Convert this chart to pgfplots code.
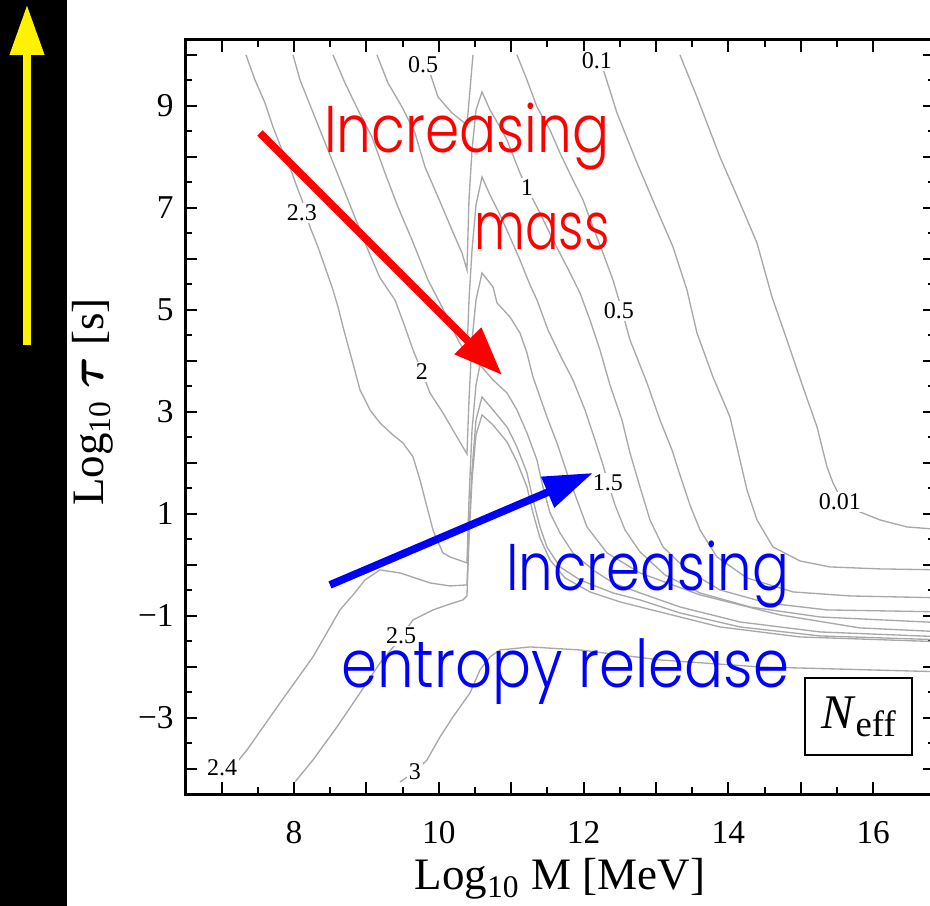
\documentclass[border=0pt]{standalone}
\usepackage{fontspec}
\setmainfont{Liberation Serif}
\newfontfamily\annfont{Poppins Light}
\usepackage{amsmath}
\usepackage{graphicx}
\usepackage{pgfplots}
\pgfplotsset{compat=1.18}
\usetikzlibrary{arrows.meta}
\definecolor{cline}{RGB}{168,168,168}
\tikzset{
  clab/.style={font=\fontsize{7.2}{8}\selectfont, fill=white, inner sep=0.6pt},
  ann/.style={anchor=base east, inner sep=0pt, font=\annfont\fontsize{19.8}{22}\selectfont},
}

\begin{document}
\begin{tikzpicture}
\begin{axis}[
  x=21.72pt, y=15.3pt,
  xmin=6.5, xmax=16.85, ymin=-4.5, ymax=10.3,
  axis line style={line width=0.8pt},
  tick style={black, line width=0.6pt},
  tick align=inside,
  major tick length=3.6pt, minor tick length=2.1pt,
  xtick={7,...,16}, xticklabels={,8,,10,,12,,14,,16},
  ytick={-4,...,10}, yticklabels={,−3,,−1,,1,,3,,5,,7,,9,},
  minor x tick num=1, minor y tick num=1,
  ticklabel style={font=\fontsize{10}{12}\selectfont},
  xticklabel style={yshift=-4.5pt},
  clip mode=individual,
  no markers,
  every axis plot post/.append style={cline, solid, line width=0.4pt, mark=none},
]
% black strip with the yellow arrow at the left edge
\fill[black] (axis cs:3.90,-6.80) rectangle (axis cs:4.865,11.20);
\draw[yellow, line width=2.2pt, -{Triangle[length=15pt, width=9.9pt]}]
  (axis cs:4.312,4.314) -- (axis cs:4.312,10.98);

% contour N_eff = 2.3
\addplot coordinates {(7.337,10.000) (7.461,9.510) (7.599,9.059) (7.710,8.588) (7.834,8.137)
 (7.972,7.686) (8.041,7.412) (8.110,7.157) (8.221,6.627) (8.331,6.235) (8.428,5.843)
 (8.525,5.451) (8.608,5.059) (8.677,4.667) (8.801,4.020) (8.912,3.431) (9.050,3.039)
 (9.188,2.784) (9.367,2.549) (9.506,2.392) (9.644,2.118) (9.740,1.667) (9.837,1.137)
 (9.920,0.686) (9.975,0.490) (10.058,0.235) (10.155,0.157) (10.389,0.039) (10.417,1.275)
 (10.459,2.647) (10.514,3.529) (10.569,3.922) (10.749,3.627) (10.942,3.373) (11.080,3.039)
 (11.218,2.588) (11.356,2.059) (11.439,1.529) (11.536,1.020) (11.674,0.627) (11.853,0.235)
 (12.130,-0.098) (12.406,-0.353) (12.779,-0.549) (13.331,-0.824) (14.160,-1.118)
 (15.265,-1.314) (17.000,-1.412)};
% contour N_eff = 2.4
\addplot coordinates {(7.047,-4.157) (7.351,-3.627) (7.807,-2.706) (8.262,-1.804) (8.635,-0.882)
 (8.815,-0.588) (8.981,-0.294) (9.188,-0.098) (9.464,-0.157) (9.878,-0.353) (10.155,-0.412)
 (10.389,-0.392) (10.417,0.686) (10.459,1.863) (10.514,2.843) (10.597,3.294) (10.749,3.039)
 (10.942,2.706) (11.080,2.314) (11.218,1.804) (11.301,1.275) (11.398,0.745) (11.494,0.353)
 (11.674,-0.039) (11.950,-0.294) (12.406,-0.549) (12.779,-0.686) (13.331,-0.941)
 (14.160,-1.216) (15.265,-1.392) (17.000,-1.471)};
% contour N_eff = 2.5
\addplot coordinates {(8.014,-4.255) (8.262,-3.824) (8.594,-3.176) (8.912,-2.510) (9.188,-1.922)
 (9.395,-1.569) (9.644,-1.078) (9.920,-0.882) (10.155,-0.765) (10.334,-0.686) (10.389,-0.608)
 (10.417,0.490) (10.459,1.667) (10.514,2.549) (10.597,2.941) (10.749,2.745) (10.942,2.412)
 (11.080,2.020) (11.218,1.529) (11.301,1.020) (11.398,0.529) (11.536,0.098) (11.743,-0.255)
 (12.088,-0.529) (12.503,-0.725) (13.055,-0.922) (13.884,-1.216) (14.989,-1.412)
 (17.000,-1.510)};
% contour N_eff = 3
\addplot coordinates {(9.464,-4.255) (9.671,-4.059) (9.837,-3.824) (10.017,-3.373) (10.196,-2.980)
 (10.431,-2.510) (10.569,-2.059) (10.707,-1.804) (10.845,-1.667) (11.260,-1.608)
 (11.950,-1.667) (13.055,-1.863) (14.436,-2.000) (17.000,-2.098)};
% contour N_eff = 2
\addplot coordinates {(7.986,10.000) (8.083,9.510) (8.221,9.020) (8.359,8.529) (8.525,7.941)
 (8.691,7.353) (8.856,6.765) (9.022,6.176) (9.188,5.627) (9.395,5.196) (9.533,4.667)
 (9.644,4.216) (9.768,3.784) (9.878,3.373) (10.058,2.980) (10.251,2.510) (10.389,2.176)
 (10.417,3.235) (10.459,4.412) (10.514,5.196) (10.597,5.725) (10.749,5.451) (10.804,5.137)
 (10.983,4.863) (11.121,4.549) (11.218,4.157) (11.301,3.686) (11.494,2.902) (11.632,2.392)
 (11.771,1.804) (11.909,1.275) (12.047,0.745) (12.323,0.235) (12.779,-0.157) (13.608,-0.588)
 (14.712,-0.980) (15.817,-1.235) (17.000,-1.314)};
% contour N_eff = 1.5
\addplot coordinates {(8.539,10.000) (8.704,9.451) (8.884,8.922) (9.077,8.392) (9.257,7.686)
 (9.436,7.020) (9.630,6.373) (9.851,5.588) (10.044,5.059) (10.265,4.412) (10.389,4.118)
 (10.417,5.196) (10.459,6.176) (10.514,7.059) (10.597,7.608) (10.707,7.255) (10.845,6.863)
 (10.983,6.431) (11.121,5.980) (11.260,5.490) (11.356,5.196) (11.508,4.608) (11.674,4.118)
 (11.853,3.627) (12.019,3.039) (12.157,2.451) (12.268,1.961) (12.337,1.608) (12.434,1.176)
 (12.572,0.686) (12.779,0.255) (13.124,-0.196) (13.608,-0.549) (14.298,-0.824)
 (15.265,-1.020) (17.000,-1.137)};
% contour N_eff = 1
\addplot coordinates {(9.146,10.000) (9.298,9.451) (9.492,8.980) (9.671,8.471) (9.809,7.804)
 (9.989,7.216) (10.182,6.569) (10.320,6.118) (10.389,5.784) (10.417,7.157) (10.459,8.137)
 (10.514,8.922) (10.597,9.275) (10.707,8.922) (10.845,8.588) (10.942,8.333) (11.121,7.686)
 (11.218,7.392) (11.398,6.902) (11.577,6.373) (11.771,5.843) (11.950,5.333) (12.088,4.804)
 (12.226,4.216) (12.364,3.529) (12.530,2.843) (12.641,2.196) (12.779,1.529) (12.917,0.882)
 (13.097,0.353) (13.428,-0.098) (13.884,-0.490) (14.533,-0.745) (15.362,-0.882)
 (17.000,-0.922)};
% contour N_eff = 0.5 (left of the ridge)
\addplot coordinates {(9.713,10.000) (9.878,9.647) (9.989,9.176) (10.182,8.863) (10.389,8.627)
 (10.431,9.314) (10.472,10.000)};
% contour N_eff = 0.5 (right of the ridge)
\addplot coordinates {(11.080,10.000) (11.218,9.510) (11.356,8.980) (11.536,8.529) (11.674,8.078)
 (11.853,7.549) (11.992,7.157) (12.130,6.627) (12.268,6.118) (12.406,5.588) (12.516,5.059)
 (12.641,4.412) (12.876,3.569) (13.055,2.843) (13.221,2.255) (13.331,1.765) (13.469,1.176)
 (13.608,0.686) (13.842,0.157) (14.257,-0.255) (14.892,-0.529) (15.679,-0.608)
 (17.000,-0.647)};
% contour N_eff = 0.1
\addplot coordinates {(12.199,10.000) (12.296,9.608) (12.461,8.863) (12.738,7.882) (13.014,6.961)
 (13.235,6.235) (13.428,5.392) (13.566,4.549) (13.787,3.686) (14.022,2.902) (14.160,2.059)
 (14.257,1.471) (14.395,0.882) (14.616,0.353) (14.989,0.078) (15.403,-0.039)
 (16.094,-0.078) (17.000,-0.098)};
% contour N_eff = 0.01
\addplot coordinates {(13.331,10.000) (13.566,9.176) (13.884,8.000) (14.160,7.098) (14.395,6.314)
 (14.602,5.255) (14.809,4.412) (15.030,3.490) (15.224,2.706) (15.362,1.922) (15.445,1.608)
 (15.541,1.333) (15.817,1.039) (16.094,0.882) (16.467,0.745) (17.000,0.686)};

% contour labels
\node[clab] at (axis cs:9.782,9.814) {0.5};
\node[clab] at (axis cs:12.185,9.882) {0.1};
\node[clab] at (axis cs:11.218,7.392) {1};
\node[clab] at (axis cs:8.110,6.902) {2.3};
\node[clab] at (axis cs:12.489,4.980) {0.5};
\node[clab] at (axis cs:9.768,3.784) {2};
\node[clab] at (axis cs:12.337,1.608) {1.5};
\node[clab] at (axis cs:15.541,1.235) {0.01};
\node[clab] at (axis cs:9.478,-1.392) {2.5};
\node[clab] at (axis cs:7.006,-3.980) {2.4};
\node[clab] at (axis cs:9.671,-4.059) {3};

% annotations
\draw[red, line width=2.3pt, -{Triangle[length=14.5pt, width=10.8pt]}]
  (axis cs:7.530,8.471) -- (axis cs:10.873,3.725);
\draw[blue, line width=2.3pt, -{Triangle[length=14.8pt, width=9.5pt]}]
  (axis cs:8.497,-0.392) -- (axis cs:12.130,1.804);
\node[ann, text=red] at (axis cs:12.365,8.078) {\resizebox{85.5pt}{\height}{Increasing}};
\node[ann, text=red] at (axis cs:12.365,6.176) {\resizebox{40.5pt}{\height}{mass}};
\node[ann, text=blue] at (axis cs:14.851,-0.510) {\resizebox{84.9pt}{\height}{Increasing}};
\node[ann, text=blue] at (axis cs:14.851,-2.412) {\resizebox{134.4pt}{\height}{entropy release}};
\node[draw, line width=0.6pt, fill=white, minimum width=32.1pt, minimum height=23.1pt, inner sep=0pt]
  at (axis cs:15.797,-2.971)
  {\fontsize{14.5}{16}\selectfont\textit{N}\raisebox{-2.4pt}{\fontsize{11}{12}\selectfont eff}};

% axis labels
\node[anchor=base, font=\fontsize{13.5}{15}\selectfont] at (axis cs:11.674,-6.373)
  {Log\textsubscript{10} M [MeV]};
\node[rotate=90, font=\fontsize{13.5}{15}\selectfont] at (axis cs:5.224,3.196)
  {Log\textsubscript{10} $\boldsymbol{\tau}$ [s]};

\coordinate (bbBL) at (axis cs:3.939,-6.686);
\coordinate (bbTR) at (axis cs:16.785,11.078);
\end{axis}
\pgfresetboundingbox
\useasboundingbox (bbBL) rectangle (bbTR);
\end{tikzpicture}
\end{document}
